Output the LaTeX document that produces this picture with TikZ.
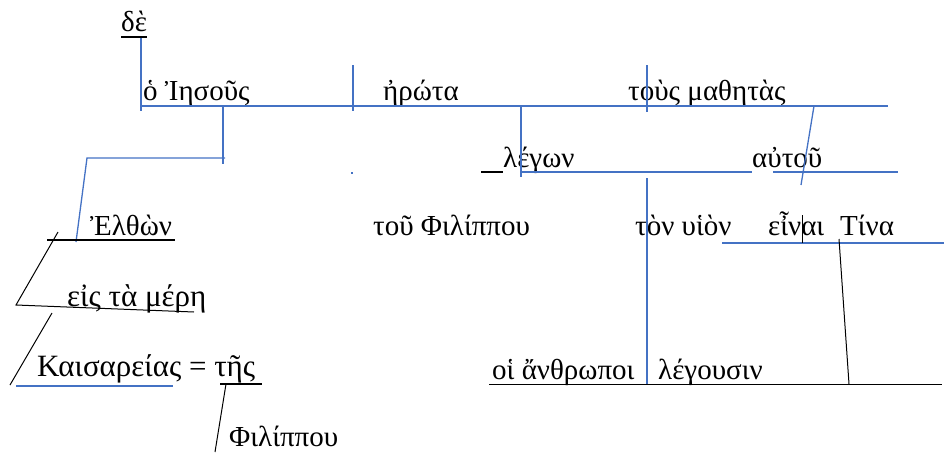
\documentclass[tikz,border=0pt]{standalone}
\usepackage{fontspec}
\setmainfont{Liberation Serif}
\definecolor{diagblue}{RGB}{68,114,196}
\tikzset{
  word/.style={anchor=base west, inner sep=0pt, font=\fontsize{29}{34}\selectfont},
  bigword/.style={word, font=\fontsize{31}{36}\selectfont},
  bline/.style={diagblue, line width=1.3pt},
  kline/.style={black, line width=1pt},
  uline/.style={black, line width=2pt},
}
\begin{document}
\begin{tikzpicture}[x=1pt,y=-1pt]
\useasboundingbox (0,0) rectangle (944,452);
% words
\node[word] (de) at (121,32) {δὲ};
\node[word] (iesous) at (143,100) {ὁ Ἰησοῦς};
\node[word] (erota) at (383,100) {ἠρώτα};
\node[word] (mathetas) at (628,100) {τοὺς μαθητὰς};
\node[word] (legon) at (503,167) {λέγων};
\node[word] (autou) at (752,167) {αὐτοῦ};
\node[word] (elthon) at (90,235) {Ἐλθὼν};
\node[word] (philippou) at (373,235) {τοῦ Φιλίππου};
\node[word] (huion) at (635,235) {τὸν υἱὸν};
\node[word] (einai) at (768,235) {εἶναι};
\node[word] (tina) at (840,235) {Τίνα};
\node[bigword] (mere) at (67,306) {εἰς τὰ μέρη};
\node[bigword] (kaisareias) at (37,376) {Καισαρείας = τῆς};
\node[word] (phil) at (229,446) {Φιλίππου};
\node[word] (anthropoi) at (492,379) {οἱ ἄνθρωποι};
\node[word] (legousin) at (658,379) {λέγουσιν};
% main line
\draw[bline] (141,37) -- (141,111);
\draw[bline] (141,106) -- (888,106);
\draw[bline] (353,65) -- (353,111);
\draw[bline] (647,65) -- (647,112);
\draw[bline] (521,106) -- (521,177);
\draw[bline] (814,106) -- (801,185);
% second level
\draw[bline] (521,172) -- (752,172);
\draw[bline] (773,172) -- (898,172);
\draw[bline] (647,178) -- (647,384);
\draw[bline] (722,243) -- (944,243);
\fill[diagblue] (351,172) rectangle (353,174);
% participle branch
\draw[bline] (223,106) -- (223,164);
\draw[bline] (225,158) -- (87,158) -- (76,242);
\draw[bline] (16,386) -- (173,386);
% underlines and slants
\draw[uline] (121,37) -- (147,37);
\draw[uline] (47,240) -- (175,240);
\draw[uline] (481,172) -- (503,172);
\draw[uline] (220,384) -- (262,384);
\draw[kline] (58,232) -- (16,305) -- (194,312);
\draw[kline] (52,313) -- (10,385);
\draw[kline] (226,384) -- (215,452);
\draw[kline] (489,384) -- (942,384);
\draw[kline] (839,239) -- (849,384);
\draw[kline] (802,215) -- (802,243);
\end{tikzpicture}
\end{document}
